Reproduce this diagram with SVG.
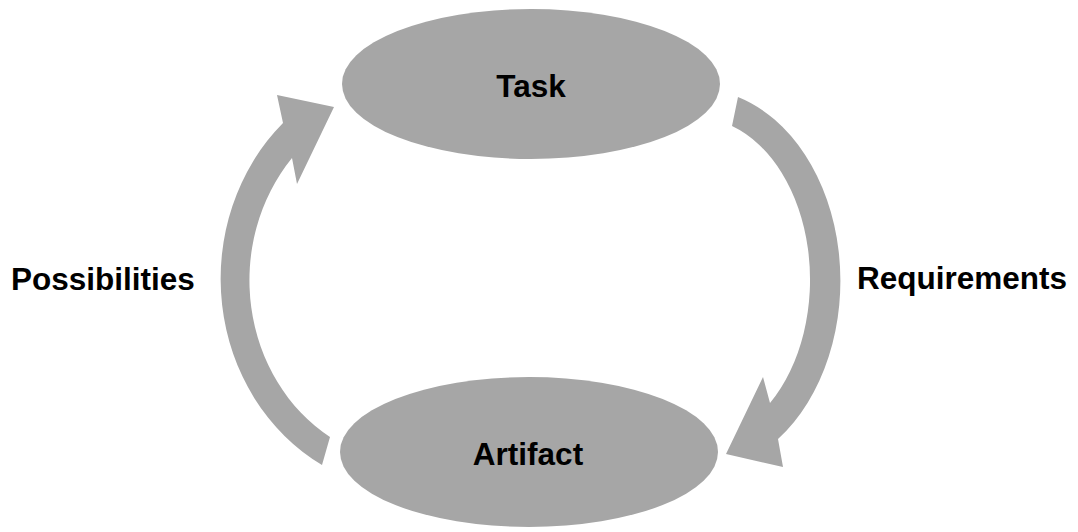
<svg xmlns="http://www.w3.org/2000/svg" width="1078" height="532" viewBox="0 0 1078 532">
  <style>
    .shape { fill: #a6a6a6; stroke: none; }
    .label { font-family: "Liberation Sans", Arial, sans-serif; font-weight: bold; font-size: 31.5px; fill: #000000; }
  </style>
  <rect width="1078" height="532" fill="#ffffff"/>

  <!-- curved block arrows -->
  <g id="connectors">
    <!-- Artifact back up to Task (left side) -->
    <path id="arrow-possibilities" class="shape"
          d="M 283,123 A 194 212 0 0 0 322,465 L 330,437 A 164 182 0 0 1 292,158 L 297,184 L 334,107 L 277,95 Z"/>
    <!-- Task down to Artifact (right side) -->
    <path id="arrow-requirements" class="shape"
          d="M 738,97 A 144 192 0 0 1 778,439 L 783,467 L 726,454 L 763,377 L 770,403 A 114 162 0 0 0 732,126 Z"/>
  </g>

  <g id="node-task">
    <ellipse class="shape" cx="531" cy="84" rx="189" ry="75"/>
    <text class="label" x="531" y="97" text-anchor="middle">Task</text>
  </g>

  <g id="node-artifact">
    <ellipse class="shape" cx="529" cy="452" rx="189" ry="75"/>
    <text class="label" x="528" y="465" text-anchor="middle">Artifact</text>
  </g>

  <g id="label-possibilities">
    <text class="label" x="11" y="290">Possibilities</text>
  </g>

  <g id="label-requirements">
    <text class="label" x="857" y="289">Requirements</text>
  </g>
</svg>
